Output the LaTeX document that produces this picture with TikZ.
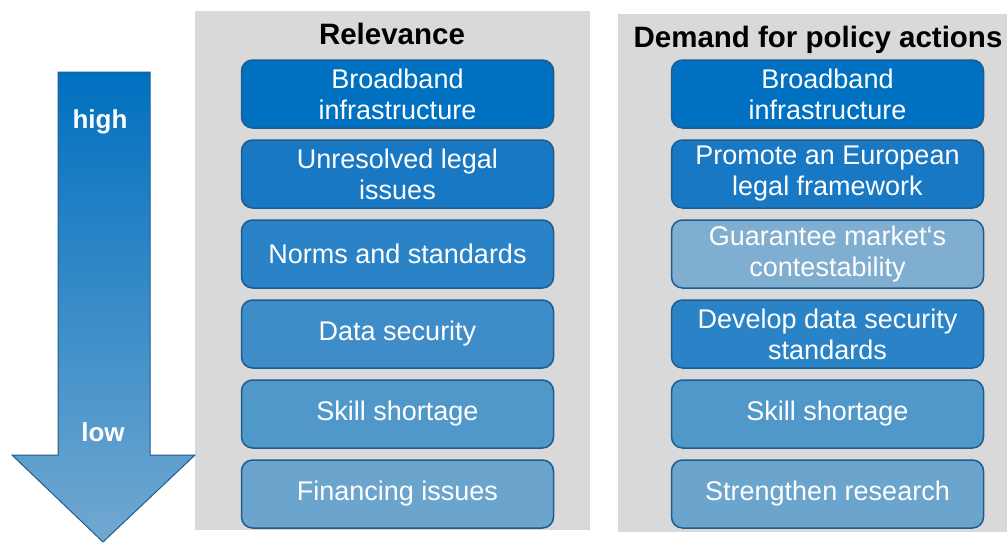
\documentclass[tikz,border=0pt]{standalone}
\usepackage{fontspec}
\setmainfont{Liberation Sans}
\usetikzlibrary{chains, positioning, backgrounds}
\definecolor{panelgray}{HTML}{D9D9D9}
\definecolor{boxborder}{HTML}{1F5C8E}
\definecolor{lvlA}{HTML}{0070C0}
\definecolor{lvlB}{HTML}{1878C4}
\definecolor{lvlC}{HTML}{2A83C6}
\definecolor{lvlD}{HTML}{3E8DC8}
\definecolor{lvlE}{HTML}{5198CA}
\definecolor{lvlF}{HTML}{6BA4CC}
\definecolor{lvlL}{HTML}{80AED1}
\definecolor{arrowtop}{HTML}{0070C0}
\definecolor{arrowbot}{HTML}{72A8D0}
\tikzstyle{block} = [rectangle, draw=boxborder, line width=1.5pt, text=white, align=center, rounded corners=11pt, minimum width=312pt, minimum height=68pt, inner sep=0pt, font=\fontsize{27}{31}\selectfont]
\tikzstyle{title} = [font=\fontsize{29.5}{32}\selectfont\bfseries, anchor=base]
\tikzstyle{level} = [text=white, font=\fontsize{26}{28}\selectfont\bfseries, anchor=base]

\begin{document}
\begin{tikzpicture}[x=1pt,y=-1pt,node distance=10.5pt]
\useasboundingbox (0,0) rectangle (1007,542);
\fill[panelgray] (195,11) rectangle (590,530);
\fill[panelgray] (618,14) rectangle (1007,532);

% ranking arrow
\shade[top color=arrowtop, bottom color=arrowbot, draw=boxborder, line width=1pt]
  (58,72) -- (150,72) -- (150,455) -- (195,455) -- (103,542) -- (12,455) -- (58,455) -- cycle;
\node[level] (high) at (100,128) {high};
\node[level] (low) at (103,441) {low};

\node[title] (relt) at (392,44) {Relevance};
\node[title] (demt) at (818,47) {Demand for policy actions};

% relevance column
\begin{scope}[start chain=rel going below]
\node[block, fill=lvlA, on chain] (rbb) at (397.5,94) {Broadband\\infrastructure};
\node[block, fill=lvlB, on chain] (rleg) {Unresolved legal\\issues};
\node[block, fill=lvlC, on chain] (rnorm) {Norms and standards};
\node[block, fill=lvlD, on chain] (rsec) {Data security};
\node[block, fill=lvlE, on chain] (rskill) {Skill shortage};
\node[block, fill=lvlF, on chain] (rfin) {Financing issues};
\end{scope}

% policy column
\begin{scope}[start chain=dem going below]
\node[block, fill=lvlA, on chain] (dbb) at (827.5,94) {Broadband\\infrastructure};
\node[block, fill=lvlB, on chain] (dleg) {Promote an European\\legal framework};
\node[block, fill=lvlL, on chain] (dmkt) {Guarantee market‘s\\contestability};
\node[block, fill=lvlC, on chain] (dsec) {Develop data security\\standards};
\node[block, fill=lvlE, on chain] (dskill) {Skill shortage};
\node[block, fill=lvlF, on chain] (dres) {Strengthen research};
\end{scope}
\end{tikzpicture}
\end{document}
